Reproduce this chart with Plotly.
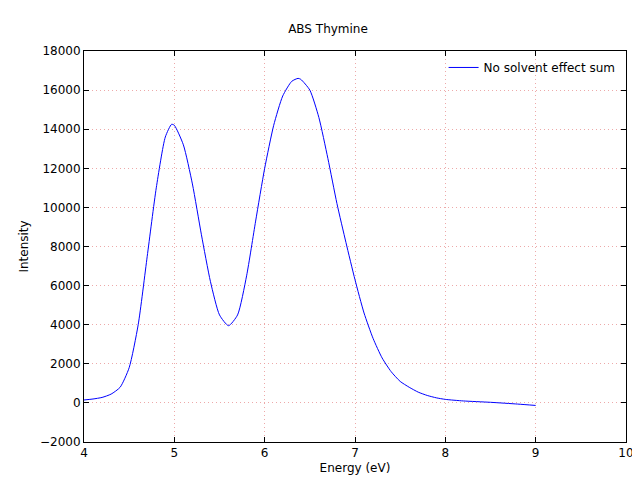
import plotly.graph_objects as go

energy = [4.0,4.1,4.2,4.3,4.4,4.5,4.6,4.7,4.8,4.9,4.97,5.0,5.1,5.2,5.3,5.4,5.5,5.6,5.7,5.8,5.9,6.0,6.1,6.2,6.3,6.37,6.4,6.5,6.6,6.7,6.8,6.9,7.0,7.1,7.2,7.3,7.4,7.5,7.6,7.7,7.8,7.9,8.0,8.2,8.5,8.8,9.0]
intensity = [150,200,280,450,800,1800,4000,7500,11000,13600,14250,14200,13200,11200,8600,6200,4500,3950,4500,6500,9300,12000,14200,15700,16450,16600,16550,16000,14600,12500,10200,8200,6300,4600,3300,2300,1600,1100,800,550,380,260,180,100,30,-60,-130]

fig = go.Figure(go.Scatter(x=energy, y=intensity, mode="lines",
                           line=dict(color="#0000ff", width=1, shape="spline", smoothing=0.6),
                           name="No solvent effect sum"))
grid = dict(showgrid=True, gridcolor="rgba(235,160,160,0.9)", griddash="1px,3px", gridwidth=1,
            showline=True, linecolor="black", mirror="ticks", ticks="inside", ticklen=5, tickcolor="black",
            zeroline=False, tickfont=dict(size=12, color="black"), automargin=False)
fig.update_layout(
    width=640, height=478, plot_bgcolor="white", paper_bgcolor="white",
    font=dict(family="DejaVu Sans", size=12, color="black"),
    margin=dict(l=76, r=22, t=43, b=44),
    title=dict(text="ABS Thymine", x=0.5, xanchor="center", y=0.965, font=dict(size=12)),
    xaxis=dict(range=[4, 10], dtick=1, title=dict(text="Energy (eV)", standoff=4, font=dict(size=12)), **grid),
    yaxis=dict(range=[-2000, 18000], dtick=2000, tickformat="d",
               title=dict(text="Intensity", standoff=8, font=dict(size=12)), **grid),
    legend=dict(x=0.99, y=0.995, xanchor="right", yanchor="top", bgcolor="rgba(0,0,0,0)"),
    showlegend=True,
)
fig.write_html("out.html")
